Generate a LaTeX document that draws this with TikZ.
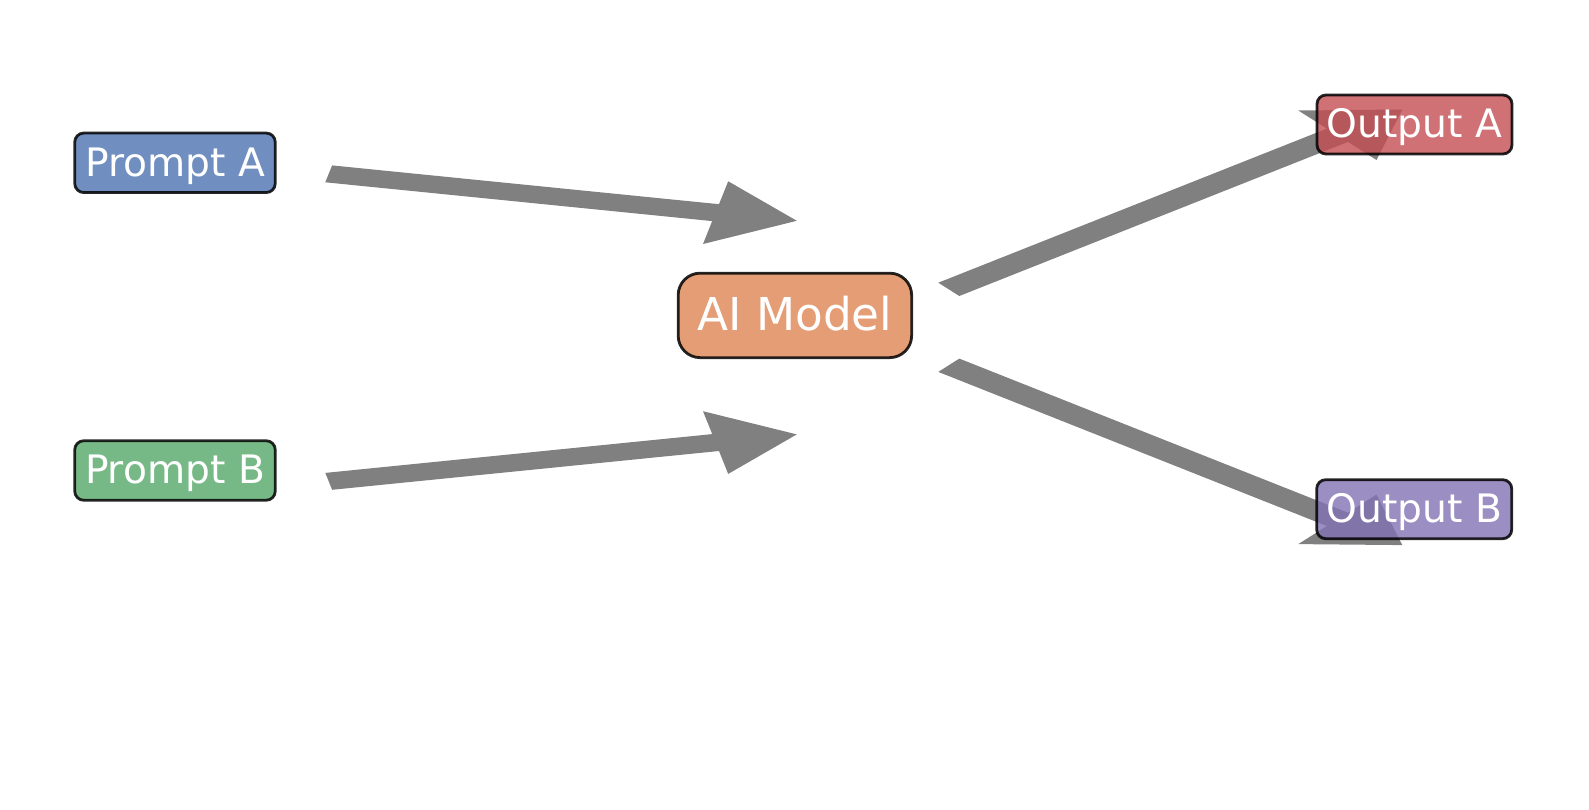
\documentclass[tikz,border=0pt]{standalone}
\usepackage{fontspec}
\setmainfont{DejaVu Sans}
\definecolor{cpa}{HTML}{4C72B0}
\definecolor{cpb}{HTML}{55A868}
\definecolor{cai}{HTML}{DD8452}
\definecolor{coa}{HTML}{C44E52}
\definecolor{cob}{HTML}{8172B3}
\definecolor{arrgray}{HTML}{808080}
\begin{document}
\begin{tikzpicture}[x=1pt,y=-1pt,
  box/.style={draw=black, draw opacity=0.85, line width=2.8pt, fill opacity=0.8,
    text opacity=1, text=white, rounded corners=9pt, inner sep=0pt,
    text height=35pt, text depth=8.5pt, font=\fontsize{39.2}{44}\selectfont},
  smallbox/.style={box, minimum width=200.5pt, minimum height=59.5pt},
  outbox/.style={box, minimum width=195pt, minimum height=59pt},
  bigbox/.style={box, rounded corners=22pt, minimum width=233.5pt, minimum height=84.5pt,
    text height=40pt, text depth=10.2pt, font=\fontsize{45.3}{50}\selectfont},
  arr/.style={fill=arrgray, draw=none}]
\useasboundingbox (0,0) rectangle (1589,810);
% arrows (drawn first, behind the translucent boxes)
\fill[arr] (332.1,165.4) -- (719.0,204.2) -- (728.2,181.3) -- (796.8,220.8) -- (703.0,244.0) -- (712.2,221.1) -- (325.3,182.3) -- cycle;
\fill[arr] (332.1,489.8) -- (719.0,451.0) -- (728.2,473.9) -- (796.8,434.4) -- (703.0,411.2) -- (712.2,434.1) -- (325.3,472.9) -- cycle;
\fill[arr] (938.3,282.7) -- (1326.9,128.6) -- (1298.3,110.5) -- (1402.3,109.5) -- (1376.5,160.0) -- (1347.9,141.9) -- (959.3,296.0) -- cycle;
\fill[arr] (938.3,371.9) -- (1326.9,526.0) -- (1298.3,544.1) -- (1402.3,545.1) -- (1376.5,494.6) -- (1347.9,512.7) -- (959.3,358.6) -- cycle;
% nodes
\node[smallbox, fill=cpa] (pa) at (175,162.8) {Prompt A};
\node[smallbox, fill=cpb] (pb) at (175,470.5) {Prompt B};
\node[bigbox, fill=cai] (ai) at (794.9,315.4) {AI Model};
\node[outbox, fill=coa] (oa) at (1414.5,124.5) {Output A};
\node[outbox, fill=cob] (ob) at (1414.2,509.2) {Output B};
\end{tikzpicture}
\end{document}
